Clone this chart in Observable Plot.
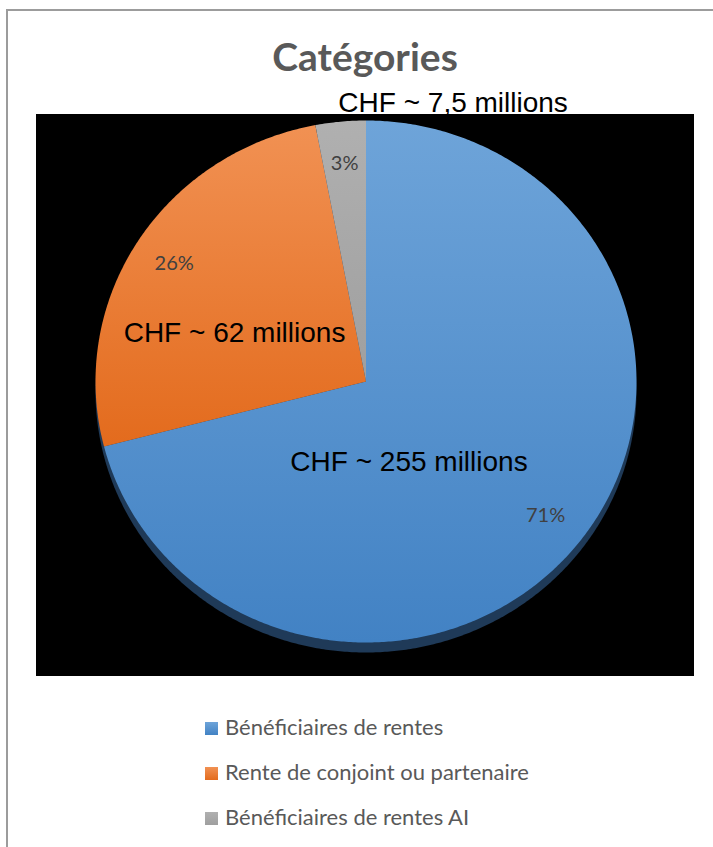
<!DOCTYPE html>
<html><head><meta charset="utf-8">
<script src="https://cdn.jsdelivr.net/npm/d3@7"></script>
<script src="https://cdn.jsdelivr.net/npm/@observablehq/plot@0.6"></script>
<style>
html,body{margin:0;padding:0;background:#fff;width:713px;height:847px;overflow:hidden;}
#page{position:relative;width:713px;height:847px;overflow:hidden;background:#fff;}
#border{position:absolute;left:6px;top:9px;width:800px;height:900px;border-left:2px solid #9c9c9c;border-top:2px solid #9c9c9c;}
#title{position:absolute;left:0;width:730px;top:37px;text-align:center;font-family:Lato,sans-serif;font-weight:bold;font-size:39px;line-height:39px;color:#595959;}
#chart{position:absolute;left:36px;top:114px;}
.sw{position:absolute;left:205px;width:13px;height:13px;}
.lt{position:absolute;left:225px;font-family:Lato,sans-serif;font-size:22px;line-height:22px;color:#595959;white-space:nowrap;}
</style>
</head>
<body>
<svg width="0" height="0" style="position:absolute">
  <defs>
    <linearGradient id="gBlue" x1="0" y1="0" x2="0" y2="1">
      <stop offset="0" stop-color="#6ea4d9"/><stop offset="1" stop-color="#4282c4"/>
    </linearGradient>
    <linearGradient id="gOrange" x1="0" y1="0" x2="0" y2="1">
      <stop offset="0" stop-color="#f19153"/><stop offset="1" stop-color="#e36b1d"/>
    </linearGradient>
    <linearGradient id="gGray" x1="0" y1="0" x2="0" y2="1">
      <stop offset="0" stop-color="#b0b0b0"/><stop offset="1" stop-color="#9f9f9f"/>
    </linearGradient>
  </defs>
</svg>
<div id="page">
  <div id="border"></div>
  <div id="title">Catégories</div>
  <div id="chart"></div>
  <div id="legend"></div>
</div>
<script>
// ---- data ----
const categories = ["Bénéficiaires de rentes", "Rente de conjoint ou partenaire", "Bénéficiaires de rentes AI"];
const shares = [71, 26, 3];
const amounts = ["CHF ~ 255 millions", "CHF ~ 62 millions", "CHF ~ 7,5 millions"];

// ---- styles / layout ----
const fills = ["url(#gBlue)", "url(#gOrange)", "url(#gGray)"];
const swatchCss = ["linear-gradient(#6ea4d9,#4282c4)", "linear-gradient(#f19153,#e36b1d)", "linear-gradient(#b0b0b0,#9f9f9f)"];
const amountPos = [[0.159, -0.307], [-0.486, 0.186], [0.322, 1.067]]; // unit-circle label anchors
const pctRadius = 0.84;

// ---- geometry from data ----
const arcs = d3.pie().sort(null).value(d => d)(shares);
function arcPoints(a0, a1, withCenter) {
  const n = Math.max(2, Math.ceil((a1 - a0) / (Math.PI / 360)));
  const pts = withCenter ? [{x: 0, y: 0}] : [];
  for (let i = 0; i <= n; i++) {
    const a = a0 + (a1 - a0) * i / n;
    pts.push({x: Math.sin(a), y: Math.cos(a)});
  }
  if (withCenter) pts.push({x: 0, y: 0});
  return pts;
}
const shadow = arcPoints(0, 2 * Math.PI, false);
const pctLabels = arcs.map(a => {
  const m = (a.startAngle + a.endAngle) / 2;
  return {x: pctRadius * Math.sin(m), y: pctRadius * Math.cos(m), t: a.data + "%"};
});
const amountLabels = amounts.map((t, i) => ({x: amountPos[i][0], y: amountPos[i][1], t}));

const plot = Plot.plot({
  width: 658, height: 562, margin: 0,
  style: {background: "black", overflow: "visible"},
  x: {domain: [-1, 1], range: [59, 600], axis: null},
  y: {domain: [-1, 1], range: [528, 6], axis: null},
  marks: [
    Plot.line(shadow, {x: "x", y: "y", fill: "#1f3a58", stroke: "none", dy: 10}),
    ...arcs.map((a, i) => Plot.line(arcPoints(a.startAngle, a.endAngle, true), {x: "x", y: "y", fill: fills[i], stroke: "none"})),
    Plot.text(pctLabels, {x: "x", y: "y", text: "t", fontFamily: "Lato", fontSize: 20, fill: "#404040"}),
    Plot.text(amountLabels, {x: "x", y: "y", text: "t", fontFamily: "Liberation Sans, Arial", fontSize: 28, fill: "#000"})
  ]
});
document.getElementById("chart").appendChild(plot);

// ---- legend ----
const legend = document.getElementById("legend");
const rowTops = [722, 767, 812];
categories.forEach((c, i) => {
  const sw = document.createElement("div");
  sw.className = "sw"; sw.style.top = rowTops[i] + "px"; sw.style.background = swatchCss[i];
  const lt = document.createElement("div");
  lt.className = "lt"; lt.style.top = (rowTops[i] - 6.5) + "px"; lt.textContent = c;
  legend.appendChild(sw); legend.appendChild(lt);
});
</script>
</body></html>
